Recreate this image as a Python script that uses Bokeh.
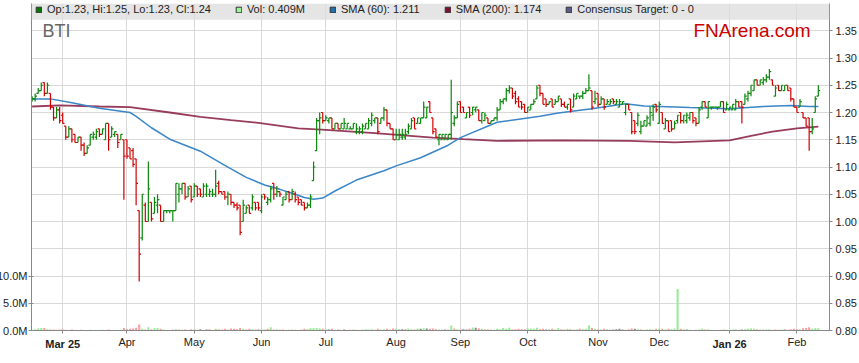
from bokeh.plotting import figure
from bokeh.models import (Range1d, LinearAxis, FixedTicker, NumeralTickFormatter, ColumnDataSource,
                          BoxAnnotation, Label, Legend, LegendItem)
from bokeh.transform import dodge
from bokeh.embed import file_html
from bokeh.resources import INLINE

# ---------------- data ----------------
MONTH_TICKS = [10, 31, 53, 75, 96, 119, 140, 162, 185, 205, 228, 250]
MONTH_LABELS = ["Mar 25", "Apr", "May", "Jun", "Jul", "Aug", "Sep", "Oct", "Nov", "Dec", "Jan 26", "Feb"]
BOLD_LABELS = ["Mar 25", "Jan 26"]

OPEN = [
    1.22, 1.225, 1.235, 1.24, 1.255, 1.235, 1.235, 1.21, 1.19, 1.205,
    1.195, 1.175, 1.155, 1.17, 1.16, 1.145, 1.155, 1.14, 1.125, 1.14,
    1.155, 1.155, 1.17, 1.16, 1.15, 1.18, 1.155, 1.16, 1.16, 1.15,
    1.15, 1.15, 1.135, 1.13, 1.115, 1.02, 0.97, 1.03, 1.00, 1.035,
    1.015, 1.03, 1.03, 1.00, 1.02, 1.02, 1.02, 1.02, 1.05, 1.06,
    1.07, 1.045, 1.065, 1.045, 1.065, 1.06, 1.045, 1.05, 1.05, 1.05,
    1.05, 1.07, 1.055, 1.055, 1.045, 1.05, 1.035, 1.03, 1.03, 1.00,
    1.015, 1.03, 1.025, 1.035, 1.035, 1.02, 1.05, 1.035, 1.04, 1.07,
    1.05, 1.055, 1.03, 1.04, 1.055, 1.04, 1.05, 1.045, 1.04, 1.035,
    1.025, 1.03, 1.075, 1.13, 1.185, 1.20, 1.185, 1.185, 1.19, 1.17,
    1.18, 1.17, 1.17, 1.17, 1.17, 1.17, 1.165, 1.165, 1.165, 1.17,
    1.17, 1.18, 1.185, 1.19, 1.18, 1.19, 1.205, 1.18, 1.17, 1.15,
    1.15, 1.155, 1.155, 1.165, 1.17, 1.19, 1.18, 1.18, 1.19, 1.19,
    1.22, 1.19, 1.17, 1.15, 1.15, 1.15, 1.15, 1.16, 1.18, 1.19,
    1.22, 1.21, 1.19, 1.21, 1.20, 1.205, 1.205, 1.185, 1.185, 1.19,
    1.18, 1.185, 1.19, 1.205, 1.22, 1.225, 1.24, 1.245, 1.235, 1.225,
    1.22, 1.215, 1.20, 1.205, 1.215, 1.225, 1.25, 1.235, 1.225, 1.215,
    1.225, 1.215, 1.22, 1.225, 1.215, 1.21, 1.225, 1.21, 1.225, 1.23,
    1.23, 1.235, 1.24, 1.24, 1.22, 1.235, 1.215, 1.225, 1.215, 1.215,
    1.225, 1.215, 1.21, 1.215, 1.20, 1.215, 1.20, 1.185, 1.18, 1.165,
    1.175, 1.175, 1.18, 1.195, 1.215, 1.18, 1.20, 1.17, 1.185, 1.185,
    1.17, 1.185, 1.20, 1.185, 1.185, 1.19, 1.20, 1.19, 1.18, 1.21,
    1.22, 1.19, 1.21, 1.21, 1.21, 1.21, 1.22, 1.205, 1.205, 1.205,
    1.205, 1.22, 1.22, 1.215, 1.225, 1.235, 1.24, 1.26, 1.25, 1.255,
    1.26, 1.265, 1.26, 1.23, 1.25, 1.24, 1.24, 1.25, 1.245, 1.225,
    1.21, 1.21, 1.20, 1.19, 1.19, 1.165, 1.20, 1.23,
]
HIGH = [
    1.23, 1.235, 1.245, 1.255, 1.255, 1.255, 1.235, 1.21, 1.21, 1.21,
    1.20, 1.175, 1.175, 1.17, 1.16, 1.155, 1.155, 1.145, 1.14, 1.16,
    1.165, 1.17, 1.17, 1.17, 1.18, 1.18, 1.175, 1.165, 1.16, 1.16,
    1.15, 1.15, 1.135, 1.135, 1.115, 1.02, 1.05, 1.035, 1.11, 1.035,
    1.045, 1.05, 1.03, 1.02, 1.02, 1.02, 1.02, 1.07, 1.07, 1.07,
    1.07, 1.065, 1.065, 1.07, 1.065, 1.06, 1.07, 1.07, 1.06, 1.06,
    1.095, 1.075, 1.055, 1.055, 1.055, 1.05, 1.035, 1.035, 1.03, 1.04,
    1.03, 1.03, 1.05, 1.035, 1.035, 1.05, 1.05, 1.045, 1.065, 1.07,
    1.065, 1.055, 1.045, 1.055, 1.055, 1.06, 1.055, 1.045, 1.04, 1.035,
    1.035, 1.05, 1.11, 1.19, 1.20, 1.20, 1.195, 1.19, 1.19, 1.18,
    1.18, 1.18, 1.19, 1.18, 1.175, 1.18, 1.18, 1.175, 1.18, 1.18,
    1.19, 1.20, 1.19, 1.19, 1.19, 1.21, 1.205, 1.18, 1.17, 1.17,
    1.17, 1.17, 1.17, 1.18, 1.19, 1.19, 1.19, 1.19, 1.22, 1.21,
    1.22, 1.19, 1.17, 1.16, 1.16, 1.16, 1.16, 1.26, 1.195, 1.22,
    1.22, 1.21, 1.20, 1.21, 1.21, 1.21, 1.205, 1.20, 1.20, 1.19,
    1.185, 1.19, 1.21, 1.225, 1.225, 1.245, 1.25, 1.245, 1.24, 1.23,
    1.22, 1.215, 1.21, 1.215, 1.225, 1.25, 1.25, 1.235, 1.225, 1.22,
    1.225, 1.225, 1.23, 1.225, 1.22, 1.215, 1.225, 1.235, 1.235, 1.23,
    1.24, 1.245, 1.27, 1.24, 1.24, 1.235, 1.23, 1.225, 1.225, 1.225,
    1.225, 1.225, 1.225, 1.22, 1.215, 1.215, 1.20, 1.185, 1.20, 1.185,
    1.185, 1.195, 1.21, 1.215, 1.215, 1.22, 1.20, 1.19, 1.185, 1.185,
    1.185, 1.195, 1.20, 1.195, 1.20, 1.20, 1.20, 1.19, 1.21, 1.22,
    1.22, 1.22, 1.21, 1.21, 1.21, 1.22, 1.22, 1.22, 1.21, 1.215,
    1.225, 1.22, 1.22, 1.235, 1.24, 1.25, 1.26, 1.26, 1.26, 1.265,
    1.27, 1.28, 1.26, 1.25, 1.25, 1.25, 1.25, 1.25, 1.245, 1.225,
    1.21, 1.225, 1.20, 1.19, 1.19, 1.19, 1.23, 1.25,
]
LOW = [
    1.22, 1.22, 1.235, 1.24, 1.23, 1.235, 1.205, 1.185, 1.19, 1.18,
    1.18, 1.15, 1.155, 1.145, 1.145, 1.145, 1.13, 1.12, 1.125, 1.14,
    1.15, 1.15, 1.155, 1.16, 1.15, 1.13, 1.155, 1.155, 1.135, 1.15,
    1.04, 1.115, 1.115, 1.10, 1.03, 0.89, 0.965, 1.00, 1.00, 1.00,
    1.015, 1.015, 1.00, 1.00, 1.015, 1.015, 1.00, 1.02, 1.035, 1.05,
    1.04, 1.045, 1.035, 1.045, 1.045, 1.045, 1.045, 1.045, 1.045, 1.045,
    1.045, 1.05, 1.05, 1.04, 1.03, 1.03, 1.025, 1.02, 0.975, 1.00,
    1.015, 1.015, 1.02, 1.02, 1.02, 1.015, 1.04, 1.03, 1.035, 1.04,
    1.045, 1.045, 1.03, 1.04, 1.035, 1.04, 1.035, 1.03, 1.03, 1.02,
    1.025, 1.025, 1.075, 1.13, 1.16, 1.18, 1.185, 1.18, 1.17, 1.17,
    1.17, 1.17, 1.17, 1.17, 1.17, 1.17, 1.16, 1.16, 1.16, 1.17,
    1.17, 1.175, 1.18, 1.16, 1.18, 1.185, 1.175, 1.17, 1.15, 1.15,
    1.15, 1.15, 1.15, 1.16, 1.17, 1.17, 1.18, 1.18, 1.19, 1.19,
    1.20, 1.16, 1.155, 1.14, 1.15, 1.15, 1.15, 1.15, 1.175, 1.19,
    1.20, 1.20, 1.19, 1.19, 1.195, 1.20, 1.185, 1.18, 1.185, 1.18,
    1.18, 1.185, 1.185, 1.205, 1.215, 1.22, 1.235, 1.225, 1.215, 1.21,
    1.205, 1.20, 1.20, 1.205, 1.215, 1.225, 1.23, 1.215, 1.21, 1.215,
    1.21, 1.215, 1.22, 1.21, 1.21, 1.205, 1.20, 1.21, 1.225, 1.225,
    1.225, 1.235, 1.24, 1.205, 1.215, 1.21, 1.215, 1.205, 1.215, 1.215,
    1.215, 1.215, 1.21, 1.215, 1.195, 1.205, 1.16, 1.16, 1.175, 1.16,
    1.175, 1.175, 1.175, 1.185, 1.20, 1.18, 1.18, 1.17, 1.165, 1.165,
    1.17, 1.18, 1.18, 1.18, 1.18, 1.185, 1.18, 1.175, 1.18, 1.205,
    1.21, 1.19, 1.205, 1.21, 1.205, 1.21, 1.20, 1.205, 1.205, 1.205,
    1.205, 1.21, 1.18, 1.215, 1.22, 1.23, 1.24, 1.25, 1.25, 1.25,
    1.255, 1.26, 1.25, 1.23, 1.24, 1.24, 1.24, 1.24, 1.22, 1.21,
    1.20, 1.21, 1.19, 1.175, 1.13, 1.16, 1.20, 1.23,
]
CLOSE = [
    1.225, 1.23, 1.24, 1.25, 1.235, 1.25, 1.21, 1.19, 1.205, 1.185,
    1.18, 1.155, 1.17, 1.15, 1.145, 1.155, 1.14, 1.125, 1.135, 1.16,
    1.16, 1.165, 1.16, 1.17, 1.18, 1.15, 1.17, 1.165, 1.145, 1.16,
    1.12, 1.12, 1.115, 1.105, 1.07, 0.94, 1.05, 1.00, 1.06, 1.005,
    1.035, 1.04, 1.00, 1.02, 1.02, 1.02, 1.02, 1.07, 1.06, 1.07,
    1.045, 1.06, 1.04, 1.065, 1.05, 1.05, 1.065, 1.065, 1.055, 1.05,
    1.065, 1.055, 1.05, 1.045, 1.05, 1.035, 1.03, 1.025, 0.98, 1.03,
    1.025, 1.015, 1.045, 1.025, 1.025, 1.045, 1.045, 1.04, 1.06, 1.05,
    1.055, 1.05, 1.045, 1.05, 1.04, 1.055, 1.04, 1.035, 1.03, 1.025,
    1.03, 1.045, 1.10, 1.185, 1.19, 1.185, 1.19, 1.19, 1.17, 1.18,
    1.17, 1.18, 1.18, 1.18, 1.17, 1.18, 1.17, 1.17, 1.175, 1.18,
    1.185, 1.195, 1.19, 1.165, 1.19, 1.205, 1.18, 1.17, 1.15, 1.16,
    1.16, 1.16, 1.16, 1.175, 1.185, 1.17, 1.19, 1.19, 1.21, 1.21,
    1.20, 1.165, 1.155, 1.16, 1.16, 1.16, 1.16, 1.20, 1.19, 1.215,
    1.20, 1.20, 1.20, 1.195, 1.21, 1.21, 1.185, 1.20, 1.195, 1.18,
    1.185, 1.19, 1.205, 1.22, 1.225, 1.24, 1.245, 1.23, 1.22, 1.21,
    1.21, 1.20, 1.21, 1.215, 1.22, 1.245, 1.235, 1.215, 1.215, 1.22,
    1.21, 1.22, 1.23, 1.215, 1.21, 1.215, 1.205, 1.23, 1.235, 1.23,
    1.235, 1.24, 1.245, 1.21, 1.225, 1.215, 1.225, 1.21, 1.22, 1.22,
    1.22, 1.22, 1.22, 1.22, 1.215, 1.205, 1.165, 1.165, 1.195, 1.175,
    1.185, 1.19, 1.20, 1.21, 1.205, 1.215, 1.18, 1.185, 1.165, 1.17,
    1.18, 1.195, 1.185, 1.195, 1.195, 1.20, 1.185, 1.18, 1.205, 1.22,
    1.21, 1.22, 1.21, 1.21, 1.21, 1.22, 1.20, 1.215, 1.21, 1.215,
    1.22, 1.21, 1.21, 1.23, 1.235, 1.25, 1.26, 1.25, 1.26, 1.26,
    1.265, 1.275, 1.25, 1.245, 1.24, 1.25, 1.25, 1.24, 1.225, 1.21,
    1.20, 1.22, 1.19, 1.175, 1.165, 1.17, 1.225, 1.24,
]
VOLUME_M = [
    0.15, 0.25, 0.35, 0.45, 0.45, 0.25, 0.2, 0.2, 0.15, 0.2,
    0.2, 0.15, 0.1, 0.2, 0.1, 0.05, 0.15, 0.1, 0.1, 0.15,
    0.1, 0.05, 0.1, 0.15, 0.1, 0.2, 0.1, 0.05, 0.1, 0.15,
    0.45, 0.2, 0.3, 0.35, 0.5, 1.1, 0.3, 0.2, 0.6, 0.25,
    0.4, 0.45, 0.3, 0.2, 0.1, 0.05, 0.15, 0.25, 0.2, 0.15,
    0.2, 0.1, 0.25, 0.2, 0.15, 0.25, 0.1, 0.2, 0.25, 0.1,
    0.3, 0.25, 0.2, 0.3, 0.2, 0.35, 0.3, 0.25, 0.45, 0.3,
    0.2, 0.3, 0.25, 0.2, 0.2, 0.2, 0.15, 0.3, 0.6, 0.2,
    0.25, 0.15, 0.2, 0.1, 0.15, 0.2, 0.15, 0.1, 0.2, 0.3,
    0.25, 0.4, 0.4, 0.45, 0.35, 0.3, 0.25, 0.2, 0.3, 0.15,
    0.2, 0.15, 0.2, 0.1, 0.15, 0.2, 0.15, 0.1, 0.2, 0.25,
    0.2, 0.25, 0.15, 0.3, 0.2, 0.25, 0.3, 0.2, 0.35, 0.3,
    0.2, 0.25, 0.2, 0.3, 0.25, 0.2, 0.35, 0.3, 0.4, 0.35,
    0.3, 0.35, 0.25, 0.2, 0.15, 0.2, 0.15, 0.9, 0.35, 0.25,
    0.2, 0.25, 0.2, 0.3, 0.55, 0.5, 0.4, 0.3, 0.25, 0.2,
    0.2, 0.15, 0.3, 0.25, 0.45, 0.3, 0.5, 0.2, 0.25, 0.3,
    0.2, 0.25, 0.35, 0.35, 0.3, 0.5, 0.25, 0.3, 0.2, 0.25,
    0.3, 0.2, 0.4, 0.25, 0.2, 0.3, 0.25, 0.2, 0.25, 0.3,
    0.25, 0.3, 0.9, 0.45, 0.3, 0.25, 0.2, 0.3, 0.25, 0.15,
    0.2, 0.25, 0.3, 0.2, 0.15, 0.25, 0.35, 0.3, 0.25, 0.2,
    0.15, 0.2, 0.25, 0.2, 0.3, 0.35, 0.3, 0.2, 0.3, 0.25,
    0.35, 7.6, 0.3, 0.25, 0.2, 0.15, 0.1, 0.15, 0.2, 0.3,
    0.2, 0.25, 0.1, 0.1, 0.1, 0.15, 0.2, 0.15, 0.1, 0.2,
    0.25, 0.15, 0.2, 0.25, 0.3, 0.35, 0.3, 0.25, 0.2, 0.15,
    0.2, 0.25, 0.15, 0.2, 0.15, 0.2, 0.2, 0.15, 0.25, 0.3,
    0.25, 0.2, 0.4, 0.45, 0.6, 0.3, 0.4, 0.409,
]
SMA60_IDX = [0, 6, 13, 22, 32, 34, 39, 45, 55, 63, 70, 76, 81, 86, 89, 92, 95, 99, 106,
             115, 119, 127, 136, 140, 152, 162, 166, 172, 183, 194, 200, 215, 228, 239, 248, 254, 257]
SMA60_VAL = [1.225, 1.225, 1.218, 1.208, 1.200, 1.193, 1.172, 1.151, 1.129, 1.103, 1.081, 1.067,
             1.059, 1.050, 1.044, 1.041, 1.043, 1.056, 1.076, 1.093, 1.102, 1.117, 1.140, 1.154,
             1.182, 1.190, 1.193, 1.199, 1.207, 1.216, 1.212, 1.209, 1.207, 1.211, 1.213, 1.211, 1.211]
SMA200_IDX = [0, 9, 22, 32, 45, 55, 65, 74, 87, 96, 112, 131, 141, 152, 173, 195, 210, 228, 235,
              242, 250, 257]
SMA200_VAL = [1.211, 1.213, 1.211, 1.210, 1.200, 1.192, 1.186, 1.181, 1.171, 1.168, 1.162, 1.154,
              1.151, 1.148, 1.149, 1.148, 1.145, 1.149, 1.157, 1.165, 1.171, 1.174]
PRICE_TICKS = [0.80, 0.85, 0.90, 0.95, 1.00, 1.05, 1.10, 1.15, 1.20, 1.25, 1.30, 1.35]
VOL_TICKS = [0, 5_000_000, 10_000_000]
VOL_TICK_LABELS = ["0.0M", "5.0M", "10.0M"]
TICKER = "BTI"
CONSENSUS = "0 - 0"

# ---------------- styles ----------------
FONT = "Liberation Sans"
GREEN = "#0a880a"
RED = "#d00000"
VOL_UP, VOL_DOWN, VOL_FLAT = "#90ee90", "#ff9a9a", "#8a8a8a"
BLUE = "#3a86c6"
MAROON = "#861a40"
GRID = "#d9d9d9"
AXIS = "#888888"
TXT = "#222222"

n = len(CLOSE)
IDX = list(range(n))
bar_color = [GREEN if c >= o else RED for o, c in zip(OPEN, CLOSE)]
vol_color = []
for i in range(n):
    prev = CLOSE[i - 1] if i > 0 else OPEN[0]
    vol_color.append(VOL_UP if CLOSE[i] > prev else (VOL_DOWN if CLOSE[i] < prev else VOL_FLAT))

src = ColumnDataSource(dict(x=IDX, o=OPEN, h=HIGH, l=LOW, c=CLOSE, col=bar_color,
                            v=[vv * 1e6 for vv in VOLUME_M], vcol=vol_color))

p = figure(width=866, height=352, output_backend="svg", toolbar_location=None,
           x_range=Range1d(-0.2, 260.65), y_range=Range1d(0.80, 1.40),
           y_axis_location="right", min_border_left=38, min_border_right=28,
           min_border_top=3, min_border_bottom=20,
           background_fill_color="white", border_fill_color="white", outline_line_color=None)
p.margin = (0, 0, 0, -7)

p.extra_y_ranges = {"vol": Range1d(0, 60_000_000)}

# axes
month_ticker = FixedTicker(ticks=MONTH_TICKS)
price_ticker = FixedTicker(ticks=PRICE_TICKS)
xax = p.xaxis[0]
xax.ticker = month_ticker
xax.major_label_overrides = {t: ("" if lab in BOLD_LABELS else lab) for t, lab in zip(MONTH_TICKS, MONTH_LABELS)}
yax = p.yaxis[0]
yax.ticker = price_ticker
yax.formatter = NumeralTickFormatter(format="0.00")
vax = LinearAxis(y_range_name="vol", ticker=FixedTicker(ticks=VOL_TICKS),
                 major_label_overrides=dict(zip(VOL_TICKS, VOL_TICK_LABELS)))
p.add_layout(vax, "left")

for ax in (xax, yax, vax):
    ax.axis_line_color = AXIS
    ax.major_tick_line_color = AXIS
    ax.minor_tick_line_color = None
    ax.major_tick_out = 3
    ax.major_tick_in = 0
    ax.major_label_text_font = FONT
    ax.major_label_text_font_size = "11px"
    ax.major_label_text_color = TXT
xax.major_label_standoff = 2
yax.major_label_standoff = 3
vax.major_label_standoff = 1
vax.major_tick_in = 2

# bold year labels on a second, line-less axis pulled up onto the first one
bold_ticks = [t for t, lab in zip(MONTH_TICKS, MONTH_LABELS) if lab in BOLD_LABELS]
xax2 = LinearAxis(ticker=FixedTicker(ticks=bold_ticks),
                  major_label_overrides={t: lab for t, lab in zip(MONTH_TICKS, MONTH_LABELS) if lab in BOLD_LABELS},
                  axis_line_color=None, major_tick_line_color=None, minor_tick_line_color=None,
                  major_tick_out=0, major_tick_in=0, major_label_standoff=-13,
                  major_label_text_font=FONT, major_label_text_font_size="11px",
                  major_label_text_font_style="bold", major_label_text_color=TXT)
p.add_layout(xax2, "below")

p.xgrid.ticker = month_ticker
p.ygrid.ticker = price_ticker
p.xgrid.grid_line_color = GRID
p.ygrid.grid_line_color = GRID

# volume
p.vbar(x="x", top="v", bottom=0, width=0.65, y_range_name="vol", fill_color="vcol",
       line_color=None, source=src)

# moving averages
p.line(SMA200_IDX, SMA200_VAL, line_color=MAROON, line_width=1.8, line_alpha=0.85)
p.line(SMA60_IDX, SMA60_VAL, line_color=BLUE, line_width=1.5)

# OHLC bars
p.segment(x0="x", y0="l", x1="x", y1="h", line_color="col", line_width=1.2, source=src)
p.segment(x0=dodge("x", -0.6), y0="o", x1="x", y1="o", line_color="col", line_width=1.2, source=src)
p.segment(x0="x", y0="c", x1=dodge("x", 0.6), y1="c", line_color="col", line_width=1.2, source=src)

# legend band
p.add_layout(BoxAnnotation(bottom=1.370, fill_color="#dcdcdc", fill_alpha=0.75, line_color=None))

NAN = float("nan")
def swatch(color):
    # legend-only renderer: its single row is NaN, so nothing is drawn in the plot
    return p.quad(left=[NAN], right=[NAN], top=[NAN], bottom=[NAN], fill_color=color,
                  line_color="#333333", line_width=1)

items = [
    LegendItem(label="Op:%.2f, Hi:%.2f, Lo:%.2f, Cl:%.2f" % (OPEN[-1], HIGH[-1], LOW[-1], CLOSE[-1]),
               renderers=[swatch("#007a00")]),
    LegendItem(label="Vol: %.3fM" % VOLUME_M[-1], renderers=[swatch("#98f598")]),
    LegendItem(label="SMA (60): %.3f" % SMA60_VAL[-1], renderers=[swatch("#1f6fae")]),
    LegendItem(label="SMA (200): %.3f" % SMA200_VAL[-1], renderers=[swatch("#7a1232")]),
    LegendItem(label="Consensus Target: %s" % CONSENSUS, renderers=[swatch("#5b5b8f")]),
]
legend = Legend(items=items, orientation="horizontal", location=(4, 315), glyph_width=7,
                glyph_height=7, label_standoff=5, spacing=24, padding=0, margin=0,
                label_height=7, label_width=0,
                label_text_font=FONT, label_text_font_size="11px", label_text_color=TXT,
                background_fill_alpha=0, border_line_alpha=0)
p.add_layout(legend)

# texts
p.add_layout(Label(x=11, y=300, x_units="screen", y_units="screen", text=TICKER,
                   text_font=FONT, text_font_size="18px", text_color="#666666",
                   text_baseline="alphabetic"))
p.add_layout(Label(x=662, y=300, x_units="screen", y_units="screen", text="FNArena.com",
                   text_font=FONT, text_font_size="19px", text_color="#cc0000",
                   text_baseline="alphabetic"))

open("out.html", "w").write(file_html(p, INLINE))
